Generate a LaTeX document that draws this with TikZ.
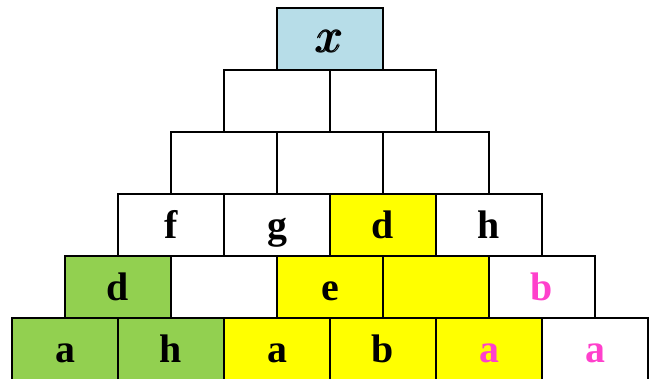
\RequirePackage{fix-cm}
\documentclass[tikz,border=0pt]{standalone}
\usepackage{amsmath}
\usepackage{fontspec}
\setmainfont{Liberation Serif}
\usepackage{xcolor}
\usepackage{tikz}
\definecolor{pyrBlue}{RGB}{183,221,232}
\definecolor{pyrGreen}{RGB}{146,208,80}
\definecolor{pyrYellow}{RGB}{255,255,0}
\definecolor{pyrPink}{RGB}{255,64,204}

\tikzset{
  cell/.style={draw=black, line width=1.6pt, minimum width=3.18cm, minimum height=1.86cm,
    inner sep=0pt, text height=28pt, text depth=5pt,
    font=\fontsize{34}{36}\selectfont\bfseries}
}
\newcommand{\bigx}{\fontsize{42}{44}\selectfont$\pmb{x}$}

\begin{document}
\begin{tikzpicture}[x=0.03cm,y=-0.03cm]
\clip (0,0) rectangle (649,378);
\useasboundingbox (0,0) rectangle (649,378);
% row / position / fill / text colour / label
\foreach \r/\c/\cfill/\ctext/\lbl in {
  1/1/pyrBlue/black/\bigx,
  2/1/white/black/{}, 2/2/white/black/{},
  3/1/white/black/{}, 3/2/white/black/{}, 3/3/white/black/{},
  4/1/white/black/f, 4/2/white/black/g, 4/3/pyrYellow/black/d, 4/4/white/black/h,
  5/1/pyrGreen/black/d, 5/2/white/black/{}, 5/3/pyrYellow/black/e, 5/4/pyrYellow/black/{}, 5/5/white/pyrPink/b,
  6/1/pyrGreen/black/a, 6/2/pyrGreen/black/h, 6/3/pyrYellow/black/a, 6/4/pyrYellow/black/b, 6/5/pyrYellow/pyrPink/a, 6/6/white/pyrPink/a}{
  \node[cell, fill=\cfill, text=\ctext] (cell-\r-\c)
    at ({330-53*(\r-1)+106*(\c-1)},{39+62*(\r-1)}) {\lbl};
}
\end{tikzpicture}
\end{document}
